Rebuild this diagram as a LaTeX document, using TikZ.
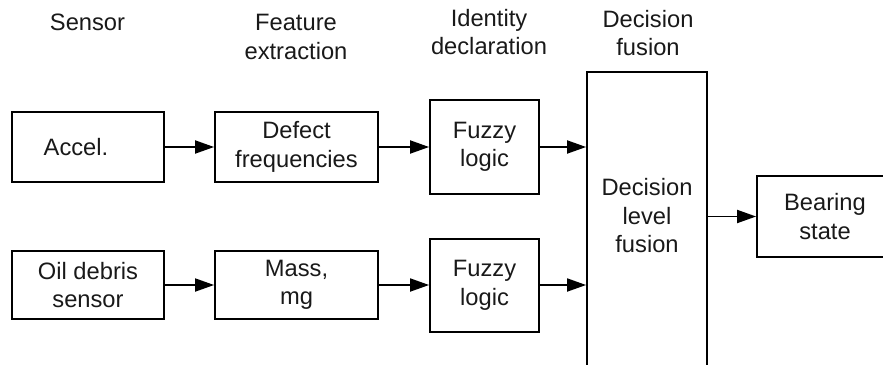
\documentclass[tikz,border=0pt]{standalone}
\usepackage{fontspec}
\setmainfont{Liberation Sans}
\usetikzlibrary{arrows.meta}
\begin{document}
\begin{tikzpicture}[x=1pt,y=-1pt,
  every node/.style={font=\fontsize{23.7}{28.5}\selectfont, align=center, text=black!90},
  box/.style={draw, line width=1.8pt, inner sep=0pt},
  lbl/.style={inner sep=0pt},
  arr/.style={line width=1.8pt, -{Triangle[length=19pt,width=13pt]}}]
\useasboundingbox (0,0) rectangle (883,364);
\clip (0,0) rectangle (883,364);
% headers
\node[lbl] (hsens) at (87.5,22) {Sensor};
\node[lbl] (hfeat) at (296,37) {Feature\\extraction};
\node[lbl] (hid) at (489,32) {Identity\\declaration};
\node[lbl] (hdec) at (648,33) {Decision\\fusion};
% boxes
\node[box, minimum width=152pt, minimum height=70pt] (accel) at (88,147) {\hspace*{-24pt}Accel.};
\node[box, minimum width=163pt, minimum height=70pt] (defect) at (296.5,147) {Defect\\frequencies};
\node[box, minimum width=109pt, minimum height=94pt] (fuz1) at (484.5,147) {Fuzzy\\logic};
\node[box, minimum width=152pt, minimum height=68pt] (oil) at (88,285) {Oil debris\\sensor};
\node[box, minimum width=163pt, minimum height=68pt] (mass) at (296.5,285) {Mass,\\mg};
\node[box, minimum width=109pt, minimum height=93pt] (fuz2) at (484.5,285.5) {Fuzzy\\logic};
\node[box, minimum width=120pt, minimum height=330pt, anchor=north] (dec) at (647,71) {};
\node[lbl] (dectxt) at (647,216) {Decision\\level\\fusion};
\node[box, minimum width=136pt, minimum height=81pt] (bear) at (825,216.5) {Bearing\\state};
% arrows
\draw[arr] (accel.east) -- (defect.west);
\draw[arr] (defect.east) -- (fuz1.west |- defect.east);
\draw[arr] (fuz1.east) -- (fuz1.east -| dec.west);
\draw[arr] (oil.east) -- (mass.west);
\draw[arr] (mass.east) -- (fuz2.west |- mass.east);
\draw[arr] (fuz2.east |- mass.east) -- (fuz2.west |- mass.east -| dec.west);
\draw[arr] (dec.east |- bear.west) -- (bear.west);
\end{tikzpicture}
\end{document}
